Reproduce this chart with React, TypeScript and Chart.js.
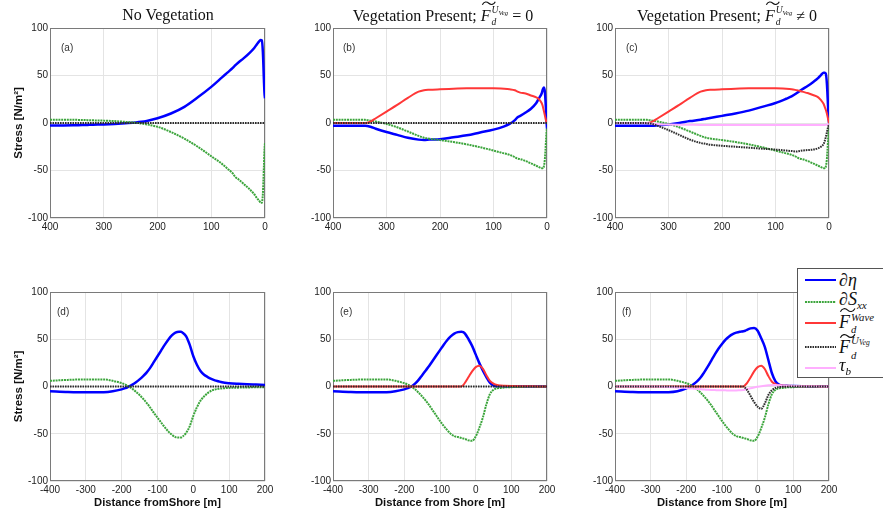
import React, { useEffect, useRef } from 'react';
import { Chart, registerables } from 'chart.js';

Chart.register(...registerables);

// ===================== DATA =====================
const yTickValues = [-100, -50, 0, 50, 100];
const xTickValuesTop = [400, 300, 200, 100, 0];
const xTickValuesBottom = [-400, -300, -200, -100, 0, 100, 200];

// Top row: distance from shore (m), plotted 400 -> 0
const xTop = [400, 375, 350, 340, 330, 320, 300, 280, 260, 240, 230, 220, 200, 175, 150, 125, 100, 80, 70, 60, 55, 50, 40, 30, 20, 15, 10, 8, 6, 4, 2, 1, 0];
const zeroTopX = [400, 0];
const zeroTopY = [0, 0];

// (a) No vegetation
const etaA = [-2.5, -2.5, -2.3, -2.2, -2, -1.8, -1.5, -1, -0.3, 0.5, 1.2, 2.2, 5, 10, 17, 27, 38, 48, 53, 58, 61, 63.5, 68, 73, 79, 83, 86.5, 87.5, 87, 75, 45, 32, 26];
const sxxA = [3.5, 3.5, 3.3, 3.2, 3, 2.8, 2.5, 2, 1.2, 0.2, -0.5, -1.5, -4, -9.5, -16.5, -25, -35, -43, -48, -53, -57, -59, -64, -69, -75, -79, -82.5, -84, -84, -75, -45, -28, -21];

// (b) Vegetation present, F_d^UVeg = 0
const etaB = [-3, -3, -3, -3, -4, -6, -9.5, -12.5, -15.5, -17.5, -18, -17.5, -17, -15, -13, -10, -7, -3.5, -1, 3, 6, 7.5, 11, 15, 21, 26, 31, 35, 37.5, 33, 15, 3, -6];
const sxxB = [3.5, 3.5, 3.5, 3.3, 2.5, 1.5, -1, -4.5, -9, -13.5, -15.5, -16.5, -18, -20, -22.5, -25.5, -29, -32, -33.5, -36, -37.5, -38, -40, -42.5, -45, -46.5, -47.5, -47.5, -46, -38, -20, -10, -5];
const waveB = [0, 0, 0, 0, 1.5, 5, 12, 19, 26.5, 33, 34.5, 35, 35.5, 36, 36.5, 36.5, 36.5, 36, 35.5, 34.5, 33, 32, 31, 29, 27, 25, 21, 18, 13, 8, 3, 1, 0];

// (c) Vegetation present, F_d^UVeg != 0
const etaC = [-3, -3, -3, -3, -3, -2.5, -1.5, 0, 2, 3.5, 4.5, 5.5, 7.5, 10, 13, 17, 21, 25.5, 28, 31.5, 33.5, 35.5, 39, 43, 47.5, 50.5, 53, 53, 52, 42, 20, 8, 0];
const sxxC = [3.5, 3.5, 3.5, 3.3, 2.5, 1.5, -1, -4.5, -9, -13.5, -15.5, -16.5, -18, -20, -22.5, -25.5, -29, -32, -33.5, -36, -37.5, -38, -40, -42.5, -45, -46.5, -47.5, -47.5, -46, -38, -20, -10, -5];
const waveC = [0, 0, 0, 0, 1.5, 5, 12, 19, 26.5, 33, 34.5, 35, 35.5, 36, 36.5, 36.5, 36.5, 36, 35.5, 34.5, 34, 33, 31.5, 29.5, 27, 24, 20, 17, 14, 10, 5, 2.5, 0];
const vegC = [0, 0, 0, -0.3, -1, -3, -7.5, -12.5, -17.5, -21, -22, -23, -24, -25, -26, -27, -28, -29, -29.5, -30, -29.5, -29, -28.5, -28, -26.5, -25, -22, -19, -15, -10, -5, -3, -1];
const taubC = [0, 0, 0, 0, -0.8, -1.3, -1.6, -1.8, -1.9, -2, -2, -2, -2, -2, -2, -2, -2, -2, -2, -2, -2, -2, -2, -2, -2, -2, -2, -2, -1.9, -1.8, -1.5, -1.2, -1];

// Bottom row: distance from shore (m), -400 -> 200
const xBot = [-400, -350, -300, -250, -225, -200, -190, -180, -170, -160, -150, -140, -130, -120, -110, -100, -90, -80, -70, -60, -50, -40, -35, -30, -20, -10, 0, 10, 20, 30, 40, 50, 60, 70, 80, 100, 125, 150, 175, 200];
const zeroBotX = [-400, 200];
const zeroBotY = [0, 0];

// (d)
const etaD = [-5, -5.8, -6.2, -6, -5, -3, -1.8, 0, 2, 4.5, 7.5, 11, 15, 20, 26, 32, 38, 44, 49.5, 54, 57, 58, 58, 57, 53, 44, 32, 23, 16.5, 12.5, 10, 8, 6.5, 5.5, 4.5, 3.5, 2.8, 2.3, 2, 1.7];
const sxxD = [6, 7, 7.5, 7.5, 6, 3.5, 2, 0, -2.5, -5.5, -9, -13, -17.5, -22.5, -28, -33, -38, -43, -47.5, -51, -53.5, -54, -54, -53, -49, -42, -31, -22, -15, -10.5, -7, -4.5, -3.2, -2.5, -2, -1.5, -1.2, -1, -0.8, -0.7];

// (e)
const etaE = [-5, -5.8, -6.2, -6, -5, -3, -1.8, 0, 3, 7, 12, 17, 22, 27.5, 33, 38.5, 44, 49, 53, 56, 57.5, 58, 57.5, 56, 50, 43, 34, 25, 17, 10, 4, 1, 0.3, 0.2, 0.1, 0, 0, 0, 0, 0];
const sxxE = [6, 7, 7.5, 7.5, 6, 3.5, 2, 0, -3, -6.5, -10.5, -15, -20, -25.5, -31, -36.5, -41.5, -46, -50, -52.5, -53.5, -54.5, -55, -55.5, -57, -57.5, -53, -44, -33, -19, -8, -3.5, -2, -1.5, -1, -0.7, -0.5, -0.3, -0.2, -0.1];
const waveE = [0, 0, 0, 0, 0, 0, 0, 0, 0, 0, 0, 0, 0, 0, 0, 0, 0, 0, 0, 0, 0, 0, 1.5, 4, 10, 16, 20.5, 22, 19, 12, 6, 3, 1.5, 1, 0.8, 0.5, 0.3, 0.2, 0.1, 0];

// (f)
const etaF = [-5, -5.8, -6.2, -6, -5, -2, 0, 2.5, 5.5, 9.5, 15, 21, 27.5, 34, 40, 45, 49.5, 53, 55.5, 57, 58, 58.5, 59, 60, 61.5, 62, 59, 51, 42, 28, 14, 5.5, 2, 1, 0.7, 0.4, 0.2, 0.1, 0, 0];
const sxxF = [6, 7, 7.5, 7.5, 6, 3.5, 2, 0, -3, -6.5, -10.5, -15, -20, -25.5, -31, -36.5, -41.5, -46, -50, -52.5, -53.5, -54.5, -55, -55.5, -57, -57.5, -53, -44, -33, -19, -8, -3.5, -2, -1.5, -1, -0.7, -0.5, -0.3, -0.2, -0.1];
const waveF = [0, 0, 0, 0, 0, 0, 0, 0, 0, 0, 0, 0, 0, 0, 0, 0, 0, 0, 0, 0, 0, 0, 1.5, 3.5, 9.5, 16, 20.5, 22, 18.5, 11, 5, 2.5, 1.5, 1, 0.8, 0.5, 0.3, 0.2, 0.1, 0];
const vegF = [0, 0, 0, 0, 0, 0, 0, 0, 0, 0, 0, 0, 0, 0, 0, 0, 0, 0, 0, 0, 0, 0, -1.5, -3.5, -10, -16.5, -21.5, -23.5, -18, -9, -4, -1.5, -0.7, -0.3, -0.2, 0, 0, 0, 0, 0];
const taubF = [0, 0, 0, -0.5, -1, -1.5, -2, -2.3, -2.6, -3, -3.2, -3.5, -3.7, -3.8, -4, -4, -4.1, -4.2, -4.2, -4.2, -4, -3.8, -3.3, -2.8, -1.8, -1, -0.3, 0.3, 0.8, 1.2, 1.5, 1.5, 1.2, 1, 0.8, 0.5, 0.3, 0.2, 0.1, 0];

// ===================== STYLE / LAYOUT =====================
type Key = 'eta' | 'sxx' | 'wave' | 'veg' | 'taub';

const STYLE: Record<Key, { borderColor: string; borderWidth: number; borderDash: number[]; order: number }> = {
  eta: { borderColor: '#0000ff', borderWidth: 2.5, borderDash: [], order: 5 },
  sxx: { borderColor: 'rgb(60,165,60)', borderWidth: 2, borderDash: [2, 0.8], order: 4 },
  wave: { borderColor: 'rgb(255,55,55)', borderWidth: 2, borderDash: [], order: 3 },
  taub: { borderColor: 'rgb(255,175,255)', borderWidth: 2, borderDash: [], order: 2 },
  veg: { borderColor: 'rgb(45,45,45)', borderWidth: 2, borderDash: [1.6, 0.9], order: 1 },
};

const COLS = [
  { l: 50, r: 265 },
  { l: 333, r: 547 },
  { l: 615, r: 829 },
];
const ROWS = [
  { t: 28, b: 218, xh: 22 },
  { t: 292, b: 481, xh: 33 },
];
const Y_AXIS_W = 50;
const PAD_TOP = 10;
const PAD_RIGHT = 20;

const SANS = '"Liberation Sans", Arial, Helvetica, sans-serif';
const SERIF = '"Liberation Serif", "Times New Roman", "DejaVu Serif", serif';

type PanelSpec = {
  col: number;
  row: number;
  letter: string;
  dx: number;
  dy: number;
  series: [Key, number[], number[]][];
  yTitle?: string;
  xTitle?: string;
};

const panels: PanelSpec[] = [
  { col: 0, row: 0, letter: '(a)', dx: 11, dy: 20, yTitle: 'Stress [N/m²]',
    series: [['eta', xTop, etaA], ['sxx', xTop, sxxA], ['veg', zeroTopX, zeroTopY]] },
  { col: 1, row: 0, letter: '(b)', dx: 10, dy: 20,
    series: [['eta', xTop, etaB], ['sxx', xTop, sxxB], ['wave', xTop, waveB], ['veg', zeroTopX, zeroTopY]] },
  { col: 2, row: 0, letter: '(c)', dx: 11, dy: 20,
    series: [['eta', xTop, etaC], ['sxx', xTop, sxxC], ['wave', xTop, waveC], ['taub', xTop, taubC], ['veg', xTop, vegC]] },
  { col: 0, row: 1, letter: '(d)', dx: 7, dy: 20, yTitle: 'Stress [N/m²]', xTitle: 'Distance fromShore [m]',
    series: [['eta', xBot, etaD], ['sxx', xBot, sxxD], ['veg', zeroBotX, zeroBotY]] },
  { col: 1, row: 1, letter: '(e)', dx: 7, dy: 20, xTitle: 'Distance from Shore [m]',
    series: [['eta', xBot, etaE], ['sxx', xBot, sxxE], ['wave', xBot, waveE], ['veg', zeroBotX, zeroBotY]] },
  { col: 2, row: 1, letter: '(f)', dx: 7, dy: 20, xTitle: 'Distance from Shore [m]',
    series: [['eta', xBot, etaF], ['sxx', xBot, sxxF], ['wave', xBot, waveF], ['taub', xBot, taubF], ['veg', xBot, vegF]] },
];

const framePlugin = {
  id: 'frame',
  beforeDatasetsDraw(chart: any, _args: any, opts: any) {
    const { ctx, chartArea: a } = chart;
    ctx.save();
    ctx.strokeStyle = '#7a7a7a';
    ctx.lineWidth = 1;
    ctx.strokeRect(Math.round(a.left) + 0.5, Math.round(a.top) + 0.5, Math.round(a.right - a.left) - 1, Math.round(a.bottom - a.top) - 1);
    ctx.fillStyle = '#333';
    ctx.font = `10px ${SANS}`;
    ctx.textBaseline = 'middle';
    ctx.textAlign = 'left';
    ctx.fillText(opts.letter, a.left + opts.dx, a.top + opts.dy);
    ctx.restore();
  },
};

function buildConfig(spec: PanelSpec): any {
  const row = ROWS[spec.row];
  const isTop = spec.row === 0;
  const xTicks = isTop ? xTickValuesTop : xTickValuesBottom;
  const grid = { color: '#e4e4e4', lineWidth: 1, drawTicks: false };
  const tickStyle = { font: { size: 10, family: SANS }, color: '#222' };
  return {
    type: 'line',
    data: {
      datasets: spec.series.map(([key, xs, ys]) => ({
        ...STYLE[key],
        data: xs.map((x, i) => ({ x, y: ys[i] })),
        pointRadius: 0,
        pointHoverRadius: 0,
        fill: false,
        cubicInterpolationMode: 'monotone',
        borderCapStyle: 'butt',
      })),
    },
    options: {
      responsive: false,
      animation: false,
      events: [],
      layout: { padding: { left: 0, right: PAD_RIGHT, top: PAD_TOP, bottom: 0 } },
      plugins: {
        legend: { display: false },
        tooltip: { enabled: false },
        frame: { letter: spec.letter, dx: spec.dx, dy: spec.dy },
      },
      scales: {
        x: {
          type: 'linear',
          min: isTop ? 0 : -400,
          max: isTop ? 400 : 200,
          reverse: isTop,
          afterBuildTicks: (s: any) => { s.ticks = xTicks.map((v) => ({ value: v })); },
          afterFit: (s: any) => { s.height = row.xh; },
          grid,
          border: { display: false },
          ticks: { ...tickStyle, padding: 3, maxRotation: 0, autoSkip: false },
          title: spec.xTitle
            ? { display: true, text: spec.xTitle, font: { size: 11.2, weight: 'bold', family: SANS }, color: '#111', padding: { top: 0, bottom: 4 } }
            : { display: false },
        },
        y: {
          type: 'linear',
          min: -100,
          max: 100,
          afterBuildTicks: (s: any) => { s.ticks = yTickValues.map((v) => ({ value: v })); },
          afterFit: (s: any) => { s.width = Y_AXIS_W; },
          grid,
          border: { display: false },
          ticks: { ...tickStyle, padding: 2 },
          title: spec.yTitle
            ? { display: true, text: spec.yTitle, font: { size: 11.5, weight: 'bold', family: SANS }, color: '#111', padding: { top: 12, bottom: 0 } }
            : { display: false },
        },
      },
    },
    plugins: [framePlugin],
  };
}

function Panel({ spec }: { spec: PanelSpec }) {
  const ref = useRef<HTMLCanvasElement>(null);
  const col = COLS[spec.col];
  const row = ROWS[spec.row];
  const width = col.r - col.l + Y_AXIS_W + PAD_RIGHT;
  const height = row.b - row.t + PAD_TOP + row.xh;
  useEffect(() => {
    if (!ref.current) return;
    const chart = new Chart(ref.current, buildConfig(spec));
    return () => chart.destroy();
  }, [spec]);
  return (
    <canvas
      ref={ref}
      width={width}
      height={height}
      style={{ position: 'absolute', left: col.l - Y_AXIS_W, top: row.t - PAD_TOP, width, height }}
    />
  );
}

// ===================== MATH TEXT HELPERS =====================
function Tilde() {
  return (
    <svg
      viewBox="0 0 20 6"
      preserveAspectRatio="none"
      style={{ position: 'absolute', left: '0.08em', top: '-0.2em', width: '0.85em', height: '0.28em', overflow: 'visible' }}
    >
      <path d="M0.5 5 C 3 0.5, 7 0.5, 10 3 C 13 5.5, 17 5.5, 19.5 1" fill="none" stroke="currentColor" strokeWidth="1.2" vectorEffect="non-scaling-stroke" />
    </svg>
  );
}

function FTilde({ sup }: { sup: React.ReactNode }) {
  return (
    <>
      <span style={{ position: 'relative', display: 'inline-block', fontStyle: 'italic' }}>
        F
        <Tilde />
      </span>
      <span
        style={{
          display: 'inline-block',
          verticalAlign: '-0.5em',
          fontSize: '0.6em',
          lineHeight: 1.15,
          textAlign: 'left',
          marginLeft: '0.1em',
        }}
      >
        <span style={{ display: 'block', fontStyle: 'italic' }}>{sup}</span>
        <span style={{ display: 'block', fontStyle: 'italic' }}>d</span>
      </span>
    </>
  );
}

const UVeg = (
  <>
    U<span style={{ fontSize: '0.7em', verticalAlign: '-0.25em' }}>Veg</span>
  </>
);

const titleBase: React.CSSProperties = {
  position: 'absolute',
  top: 4,
  width: 300,
  textAlign: 'center',
  fontFamily: SERIF,
  fontSize: 16,
  lineHeight: '22px',
  color: '#111',
  whiteSpace: 'nowrap',
};

const legendRows: { key: Key; y: number; label: React.ReactNode }[] = [
  { key: 'eta', y: 11, label: <>∂<i>η</i></> },
  { key: 'sxx', y: 33, label: <>∂<i>S</i><span style={{ fontSize: '0.62em', fontStyle: 'italic', verticalAlign: '-0.35em' }}>xx</span></> },
  { key: 'wave', y: 54, label: <FTilde sup={<>Wave</>} /> },
  { key: 'veg', y: 78, label: <FTilde sup={UVeg} /> },
  { key: 'taub', y: 99, label: <><i>τ</i><span style={{ fontSize: '0.62em', fontStyle: 'italic', verticalAlign: '-0.35em' }}>b</span></> },
];

function Legend() {
  return (
    <div
      style={{
        position: 'absolute',
        left: 797,
        top: 268,
        width: 110,
        height: 110,
        border: '1px solid #555',
        background: '#fff',
        boxSizing: 'border-box',
      }}
    >
      {legendRows.map((r) => {
        const s = STYLE[r.key];
        return (
          <React.Fragment key={r.key}>
            <svg width={31} height={6} style={{ position: 'absolute', left: 7, top: r.y - 3 }}>
              <line
                x1={0}
                y1={3}
                x2={31}
                y2={3}
                stroke={s.borderColor}
                strokeWidth={2}
                strokeDasharray={s.borderDash.length ? s.borderDash.join(' ') : undefined}
              />
            </svg>
            <div
              style={{
                position: 'absolute',
                left: 41,
                top: r.y,
                transform: 'translateY(-50%)',
                fontFamily: SERIF,
                fontSize: 18,
                lineHeight: '20px',
                color: '#111',
                whiteSpace: 'nowrap',
              }}
            >
              {r.label}
            </div>
          </React.Fragment>
        );
      })}
    </div>
  );
}

export default function App() {
  return (
    <div
      style={{
        position: 'fixed',
        left: 0,
        top: 0,
        width: 883,
        height: 514,
        overflow: 'hidden',
        background: '#fff',
      }}
    >
      {panels.map((p) => (
        <Panel key={p.letter} spec={p} />
      ))}
      <div style={{ ...titleBase, left: 168 - 150 }}>No Vegetation</div>
      <div style={{ ...titleBase, left: 443 - 150 }}>
        Vegetation Present; <FTilde sup={UVeg} /> = 0
      </div>
      <div style={{ ...titleBase, left: 727 - 150 }}>
        Vegetation Present; <FTilde sup={UVeg} /> ≠ 0
      </div>
      <Legend />
    </div>
  );
}
